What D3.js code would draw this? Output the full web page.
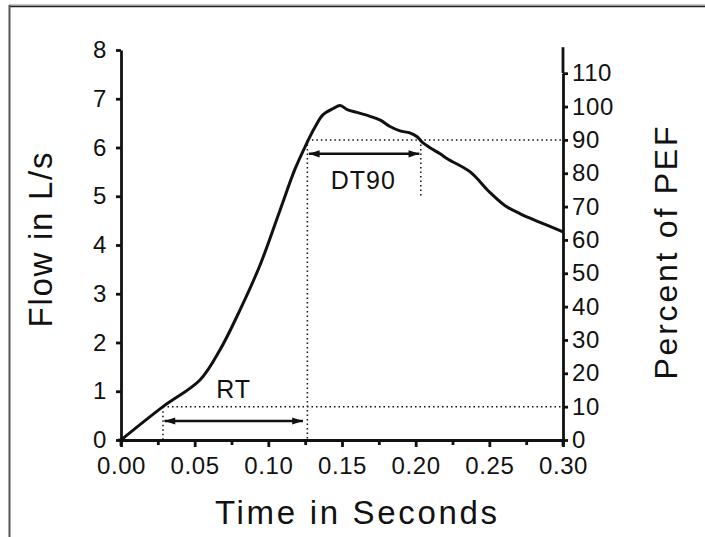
<!DOCTYPE html>
<html>
<head>
<meta charset="utf-8">
<script src="https://cdn.jsdelivr.net/npm/d3@7"></script>
<style>
  body { margin: 0; background: #fff; }
  svg { display: block; }
  text { font-family: 'Liberation Sans', Arial, sans-serif; fill: #111; }
  .axis path, .axis line { stroke: #111; stroke-width: 2.8px; }
  .axis text { font-size: 24px; letter-spacing: 0.6px; fill: #111; }
</style>
</head>
<body>
<div id="chart"></div>
<script>
// Flow trace
const time = [0, 0.0285, 0.0536, 0.0672, 0.0808, 0.0944, 0.108, 0.118, 0.125, 0.1317,
  0.137, 0.144, 0.1487, 0.154, 0.16, 0.169, 0.176, 0.1826, 0.1894, 0.196, 0.201,
  0.2044, 0.21, 0.2166, 0.222, 0.237, 0.25, 0.261, 0.271, 0.284, 0.3];
const flow = [0, 0.684, 1.23, 1.85, 2.67, 3.59, 4.72, 5.55, 6.02, 6.42,
  6.67, 6.8, 6.86, 6.77, 6.72, 6.64, 6.56, 6.43, 6.34, 6.3, 6.22,
  6.11, 5.99, 5.87, 5.76, 5.5, 5.09, 4.8, 4.64, 4.47, 4.27];

const pef = 6.84;
const tRiseStart = 0.0285; // 10% of PEF
const tPeak90 = 0.1265;    // 90% of PEF on the way up
const tDecay90 = 0.2035;   // 90% of PEF on the way down

const xTicks = [0, 0.05, 0.1, 0.15, 0.2, 0.25, 0.3];
const xMinorTicks = [0.025, 0.075, 0.125, 0.175, 0.225, 0.275];
const flowTicks = [0, 1, 2, 3, 4, 5, 6, 7, 8];
const pctTicks = [0, 10, 20, 30, 40, 50, 60, 70, 80, 90, 100, 110];

const W = 705, H = 537;

const x = d3.scaleLinear().domain([0, 0.3]).range([121, 563]);
const y = d3.scaleLinear().domain([0, 8]).range([440, 50]);
const yPct = d3.scaleLinear().domain([0, 110]).range([y(0), y(pef * 1.1)]);

const svg = d3.select('#chart').append('svg')
  .attr('width', W)
  .attr('height', H);

// page frame (top + left edge of the scanned figure)
svg.append('rect').attr('x', 9).attr('y', 4).attr('width', W - 9).attr('height', 2).attr('fill', '#c4c4c4');
svg.append('line').attr('x1', 9).attr('x2', W).attr('y1', 6.5).attr('y2', 6.5)
  .attr('stroke', '#222').attr('stroke-width', 1.5);
svg.append('line').attr('x1', 9.5).attr('x2', 9.5).attr('y1', 5).attr('y2', H)
  .attr('stroke', '#555').attr('stroke-width', 2);

// axes
const xAxis = d3.axisBottom(x)
  .tickValues(xTicks)
  .tickFormat(d3.format('.2f'))
  .tickSize(7)
  .tickSizeOuter(0)
  .tickPadding(10);

svg.append('g')
  .attr('class', 'axis')
  .attr('transform', `translate(0, ${y(0)})`)
  .call(xAxis);

svg.append('g')
  .attr('class', 'axis')
  .attr('transform', `translate(0, ${y(0)})`)
  .call(d3.axisBottom(x).tickValues(xMinorTicks).tickFormat('').tickSize(5).tickSizeOuter(0))
  .select('.domain').remove();

svg.append('g')
  .attr('class', 'axis')
  .attr('transform', `translate(${x(0)}, 0)`)
  .call(d3.axisLeft(y).tickValues(flowTicks).tickSize(5).tickSizeOuter(0).tickPadding(9));

svg.append('g')
  .attr('class', 'axis')
  .attr('transform', `translate(${x(0.3)}, 0)`)
  .call(d3.axisRight(yPct).tickValues(pctTicks).tickSize(5).tickSizeOuter(0).tickPadding(4));

svg.selectAll('.axis path, .axis line')
  .attr('stroke', '#111')
  .attr('stroke-width', 2.8);

// small overshoots of the axis lines
const stub = (x1, y1, x2, y2) => svg.append('line')
  .attr('x1', x1).attr('y1', y1).attr('x2', x2).attr('y2', y2)
  .attr('stroke', '#111').attr('stroke-width', 2.8);
stub(x(0), y(0), x(0), y(0) + 6);
stub(x(0.3), y(0), x(0.3), y(0) + 6);
stub(x(0.3), yPct(110), x(0.3), yPct(110) - 26);
stub(x(0) - 3, y(0), x(0), y(0));

// axis titles
svg.append('text')
  .attr('x', 356).attr('y', 524)
  .attr('text-anchor', 'middle')
  .attr('font-size', 33)
  .attr('textLength', 282)
  .attr('lengthAdjust', 'spacing')
  .text('Time in Seconds');

svg.append('text')
  .attr('transform', 'translate(52, 240) rotate(-90)')
  .attr('text-anchor', 'middle')
  .attr('font-size', 33)
  .attr('textLength', 175)
  .attr('lengthAdjust', 'spacing')
  .text('Flow in L/s');

svg.append('text')
  .attr('transform', 'translate(677, 253) rotate(-90)')
  .attr('text-anchor', 'middle')
  .attr('font-size', 32)
  .attr('textLength', 253)
  .attr('lengthAdjust', 'spacing')
  .text('Percent of PEF');

// dotted guide lines
const dotted = (x1, y1, x2, y2) => svg.append('line')
  .attr('x1', x1).attr('y1', y1).attr('x2', x2).attr('y2', y2)
  .attr('stroke', '#111').attr('stroke-width', 1.5)
  .attr('stroke-dasharray', '1.5,3');

dotted(x(tRiseStart), yPct(10), x(0.3), yPct(10));
dotted(x(tRiseStart), yPct(10), x(tRiseStart), y(0));
dotted(x(tPeak90), yPct(90), x(0.3), yPct(90));
dotted(x(tPeak90), yPct(90), x(tPeak90), y(0));
dotted(x(tDecay90), yPct(90), x(tDecay90), y(4.96));

// arrows
const defs = svg.append('defs');
['start', 'end'].forEach(k => {
  defs.append('marker')
    .attr('id', 'arr-' + k)
    .attr('viewBox', '0 -5 12 10')
    .attr('refX', k === 'end' ? 12 : 0)
    .attr('refY', 0)
    .attr('markerUnits', 'userSpaceOnUse')
    .attr('markerWidth', 14)
    .attr('markerHeight', 9)
    .attr('orient', 'auto')
    .append('path')
    .attr('d', k === 'end' ? 'M0,-4L12,0L0,4Z' : 'M12,-4L0,0L12,4Z')
    .attr('fill', '#111');
});

const arrow = (t1, t2, f) => svg.append('line')
  .attr('x1', x(t1)).attr('x2', x(t2)).attr('y1', y(f)).attr('y2', y(f))
  .attr('stroke', '#111').attr('stroke-width', 2.5)
  .attr('marker-start', 'url(#arr-start)')
  .attr('marker-end', 'url(#arr-end)');

arrow(tRiseStart + 0.001, tPeak90 - 0.003, 0.39);
arrow(tPeak90 + 0.001, tDecay90 - 0.001, 5.87);

svg.append('text')
  .attr('x', x(0.0765)).attr('y', y(0.865))
  .attr('text-anchor', 'middle')
  .attr('font-size', 25)
  .attr('letter-spacing', 1)
  .text('RT');

svg.append('text')
  .attr('x', x(0.1645)).attr('y', y(5.15))
  .attr('text-anchor', 'middle')
  .attr('font-size', 25)
  .attr('letter-spacing', 1)
  .text('DT90');

// flow curve
const line = d3.line()
  .x((d, i) => x(time[i]))
  .y(d => y(d))
  .curve(d3.curveCatmullRom.alpha(0.5));

svg.append('path')
  .datum(flow)
  .attr('d', line)
  .attr('fill', 'none')
  .attr('stroke', '#111')
  .attr('stroke-width', 3)
  .attr('stroke-linejoin', 'round');
</script>
</body>
</html>
